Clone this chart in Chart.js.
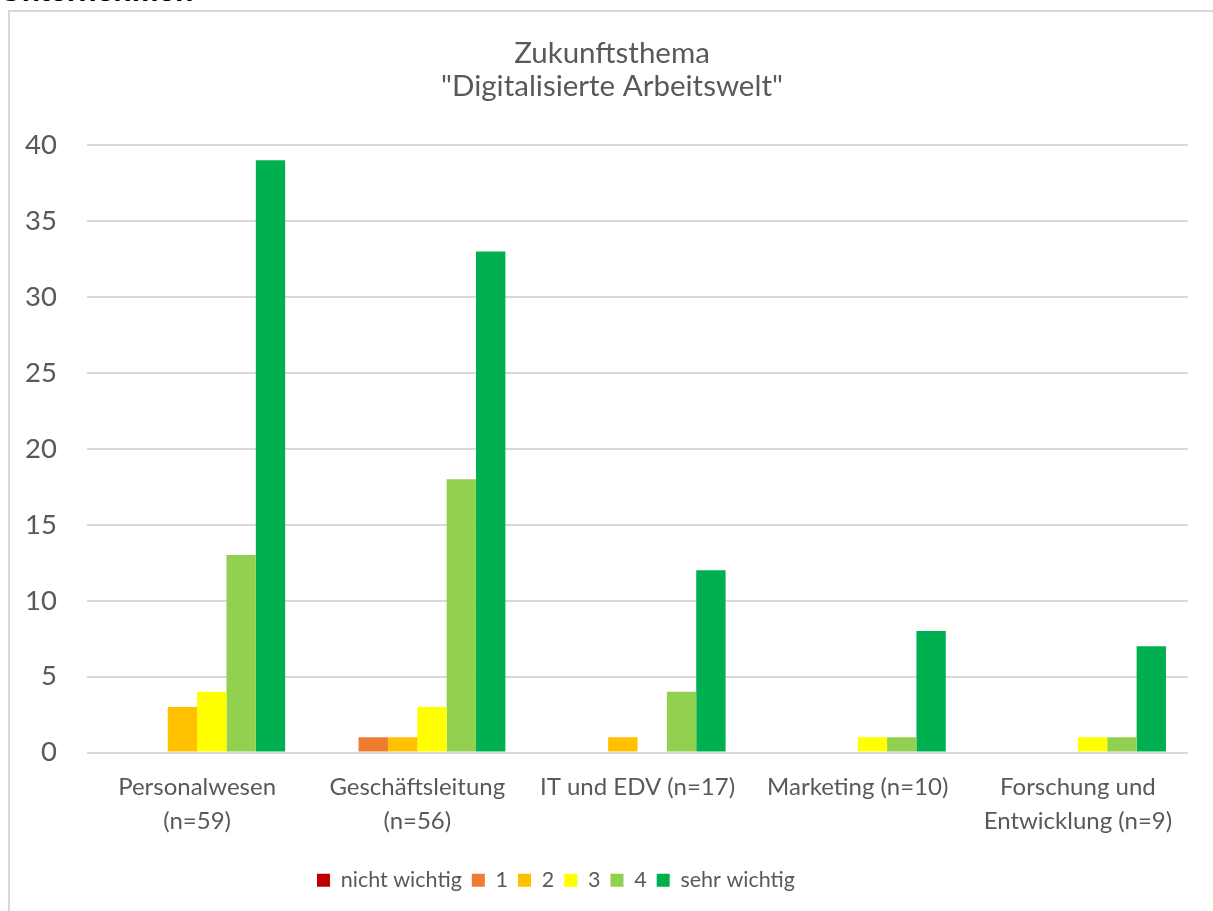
<!DOCTYPE html>
<html>
<head>
<meta charset="utf-8">
<script src="https://cdn.jsdelivr.net/npm/chart.js@4/dist/chart.umd.min.js"></script>
<style>
  html, body { margin: 0; padding: 0; background: #fff; overflow: hidden; }
  #wrap { position: relative; width: 1213px; height: 911px; }
  #ueber {
    position: absolute; left: 0; top: -24px;
    font: bold 30px "Liberation Sans", Arial, sans-serif; line-height: 30px;
    color: #000;
  }
  #rahmen {
    position: absolute; left: 8px; top: 10px; width: 1240px; height: 960px;
    border: 2px solid #d9d9d9; pointer-events: none;
  }
  canvas { position: absolute; left: 0; top: 0; }
</style>
</head>
<body>
<div id="wrap">
  <div id="ueber">Unternehmen</div>
  <div id="rahmen"></div>
  <canvas id="chart-balken" width="1213" height="911"></canvas>
</div>
<script>
// Zukunftsthema "Digitalisierte Arbeitswelt" - Balken je Bereich

const bereiche = [
  ["Personalwesen", "(n=59)"],
  ["Geschäftsleitung", "(n=56)"],
  "IT und EDV (n=17)",
  "Marketing (n=10)",
  ["Forschung und", "Entwicklung (n=9)"],
];

const stufen = ["nicht wichtig", "1", "2", "3", "4", "sehr wichtig"];
const farben = ["#C00000", "#ED7D31", "#FFC000", "#FFFF00", "#92D050", "#00B050"];

// Werte je Stufe, Reihenfolge wie bereiche
const nichtWichtig = [0, 0, 0, 0, 0];
const stufe1 = [0, 1, 0, 0, 0];
const stufe2 = [3, 1, 1, 0, 0];
const stufe3 = [4, 3, 0, 1, 1];
const stufe4 = [13, 18, 4, 1, 1];
const sehrWichtig = [39, 33, 12, 8, 7];

const werte = [nichtWichtig, stufe1, stufe2, stufe3, stufe4, sehrWichtig];

const yTicks = [0, 5, 10, 15, 20, 25, 30, 35, 40];

const textFarbe = "#595959";
const schrift = "Lato, 'Open Sans', sans-serif";

const datasets = stufen.map((stufe, i) => ({
  label: stufe,
  data: werte[i],
  backgroundColor: farben[i],
  borderWidth: 0,
}));

// Legende etwas nach links, Titel etwas nach rechts wie im Original
const verschieben = {
  id: "verschieben",
  afterLayout: (chart) => {
    chart.legend.left -= 38;
    chart.legend.right -= 38;
    chart.titleBlock.left += 18;
    chart.titleBlock.right += 18;
  },
};

const contenedor = document.querySelector("#chart-balken").getContext("2d");

const configuracion = {
  type: "bar",
  data: { labels: bereiche, datasets: datasets },
  plugins: [verschieben],
  options: {
    responsive: false,
    animation: false,
    layout: { padding: { left: 0, right: 25, top: 37, bottom: 10 } },
    datasets: { bar: { categoryPercentage: 0.8, barPercentage: 1 } },
    plugins: {
      title: {
        display: true,
        text: ["Zukunftsthema", "\"Digitalisierte Arbeitswelt\""],
        color: textFarbe,
        font: { family: schrift, size: 29.5, weight: "normal", lineHeight: 1.12 },
        padding: { top: 0, bottom: 42 },
      },
      legend: {
        position: "bottom",
        labels: {
          color: textFarbe,
          font: { family: schrift, size: 21.5 },
          boxWidth: 13,
          boxHeight: 13,
          padding: 10,
        },
      },
      tooltip: { enabled: false },
    },
    scales: {
      x: {
        grid: { display: false, drawTicks: false },
        border: { display: false },
        ticks: {
          color: textFarbe,
          font: { family: schrift, size: 24, lineHeight: 1.4 },
          padding: 18,
          maxRotation: 0,
          autoSkip: false,
        },
        afterFit: (scale) => { scale.height = 107; },
      },
      y: {
        min: yTicks[0],
        max: yTicks[yTicks.length - 1],
        grid: { color: "#d9d9d9", lineWidth: 2, drawTicks: false },
        border: { display: false },
        afterBuildTicks: (scale) => { scale.ticks = yTicks.map((v) => ({ value: v })); },
        ticks: {
          color: textFarbe,
          font: { family: schrift, size: 27.5 },
          padding: 30,
        },
        afterFit: (scale) => { scale.width = 87; },
      },
    },
  },
};

const chartBalken = new Chart(contenedor, configuracion);
</script>
</body>
</html>
